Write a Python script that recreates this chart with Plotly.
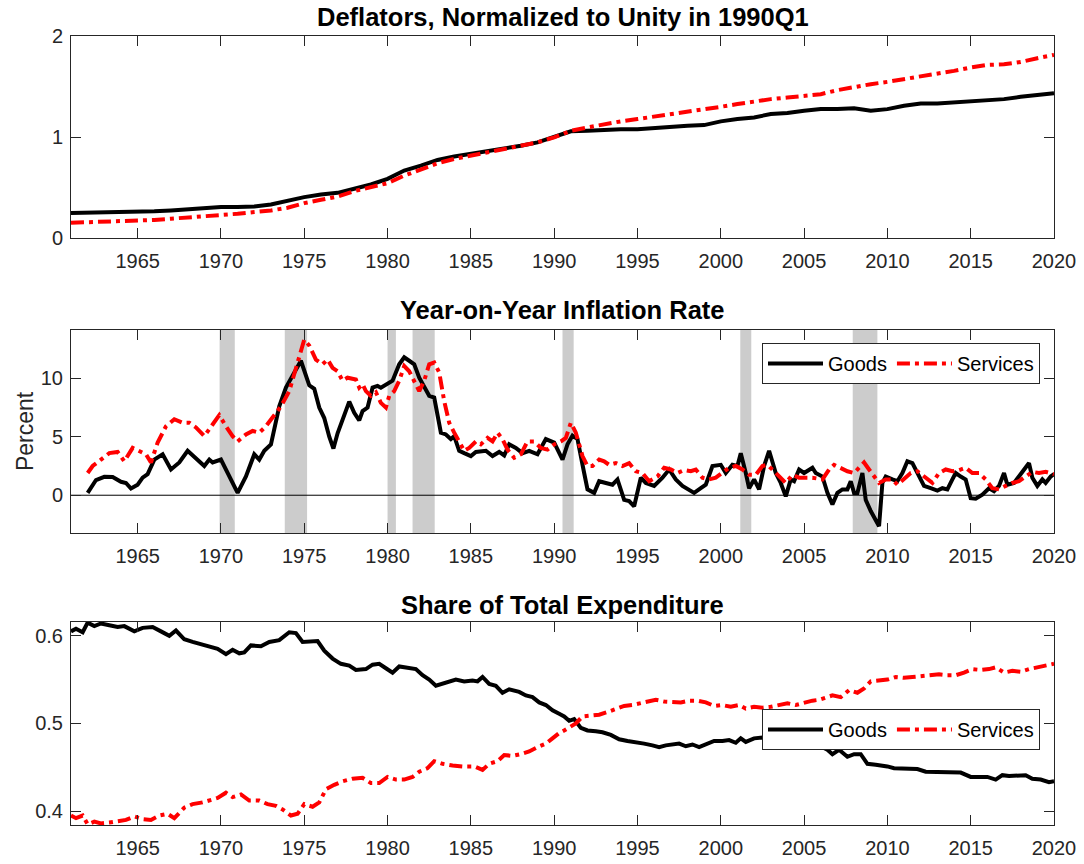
import plotly.graph_objects as go

# ---------------- Panel 1: deflators (annual readings) ----------------
defl_years = list(range(1961, 2021))
defl_goods = [0.247, 0.249, 0.251, 0.254, 0.257, 0.265, 0.273, 0.284, 0.296, 0.306,
              0.306, 0.312, 0.332, 0.372, 0.405, 0.431, 0.447, 0.487, 0.530, 0.586,
              0.668, 0.717, 0.773, 0.806, 0.832, 0.859, 0.888, 0.914, 0.947, 0.997,
              1.056, 1.062, 1.072, 1.077, 1.076, 1.089, 1.105, 1.112, 1.118, 1.155,
              1.178, 1.194, 1.227, 1.237, 1.260, 1.276, 1.276, 1.285, 1.260, 1.276,
              1.309, 1.332, 1.332, 1.342, 1.352, 1.359, 1.375, 1.398, 1.414, 1.434]
defl_serv = [0.151, 0.155, 0.159, 0.163, 0.168, 0.179, 0.191, 0.202, 0.214, 0.224,
             0.240, 0.257, 0.273, 0.299, 0.345, 0.378, 0.411, 0.464, 0.503, 0.543,
             0.618, 0.674, 0.740, 0.783, 0.816, 0.849, 0.882, 0.914, 0.947, 0.997,
             1.062, 1.095, 1.128, 1.155, 1.178, 1.201, 1.227, 1.250, 1.270, 1.299,
             1.326, 1.352, 1.375, 1.391, 1.408, 1.424, 1.464, 1.497, 1.523, 1.546,
             1.572, 1.595, 1.622, 1.655, 1.688, 1.714, 1.720, 1.743, 1.780, 1.813]

# ---------------- Panel 2: year-on-year inflation ----------------
infl_goods_t = [1962.0, 1962.5, 1963.0, 1963.5, 1964.0, 1964.3, 1964.6, 1965.0, 1965.3, 1965.6,
                1966.0, 1966.5, 1967.0, 1967.5, 1968.0, 1968.5, 1969.0, 1969.3, 1969.5, 1970.0,
                1970.5, 1971.0, 1971.5, 1972.0, 1972.3, 1972.6, 1973.0, 1973.5, 1973.9, 1974.3,
                1974.8, 1975.3, 1975.6, 1975.9, 1976.2, 1976.5, 1976.75, 1977.0, 1977.3, 1977.7,
                1978.0, 1978.3, 1978.5, 1978.8, 1979.1, 1979.4, 1979.6, 1980.0, 1980.3, 1980.7,
                1981.0, 1981.3, 1981.6, 1981.9, 1982.2, 1982.5, 1982.8, 1983.2, 1983.5, 1983.8,
                1984.0, 1984.3, 1984.6, 1985.0, 1985.3, 1985.9, 1986.3, 1986.7, 1987.0, 1987.3,
                1987.7, 1988.1, 1988.5, 1989.0, 1989.5, 1990.0, 1990.5, 1990.8, 1991.1, 1991.4,
                1991.8, 1992.0, 1992.4, 1992.7, 1993.1, 1993.5, 1993.8, 1994.2, 1994.5, 1994.8,
                1995.2, 1995.5, 1996.0, 1996.5, 1996.9, 1997.3, 1997.7, 1998.0, 1998.4, 1998.8,
                1999.1, 1999.5, 2000.0, 2000.3, 2000.7, 2001.0, 2001.2, 2001.5, 2001.7, 2002.0,
                2002.3, 2002.6, 2002.9, 2003.3, 2003.6, 2003.9, 2004.2, 2004.4, 2004.7, 2005.0,
                2005.3, 2005.5, 2005.7, 2006.1, 2006.4, 2006.7, 2007.0, 2007.3, 2007.6, 2007.8,
                2008.0, 2008.2, 2008.5, 2008.7, 2009.0, 2009.3, 2009.5, 2009.7, 2009.9, 2010.3,
                2010.6, 2010.9, 2011.2, 2011.5, 2011.8, 2012.2, 2012.6, 2013.0, 2013.3, 2013.6,
                2013.9, 2014.1, 2014.4, 2014.7, 2015.0, 2015.3, 2015.7, 2016.1, 2016.4, 2016.7,
                2017.0, 2017.2, 2017.6, 2018.0, 2018.3, 2018.5, 2018.7, 2019.0, 2019.3, 2019.5,
                2019.8, 2020.0]
infl_goods = [0.2, 1.3, 1.57, 1.55, 1.15, 1.05, 0.57, 0.9, 1.5, 1.8,
              3.05, 3.5, 2.2, 2.8, 3.8, 3.2, 2.5, 3.05, 2.8, 3.05,
              1.6, 0.2, 1.6, 3.5, 3.05, 3.8, 4.35, 7.6, 9.2, 10.3,
              11.5, 9.4, 9.1, 7.5, 6.6, 5.0, 4.0, 5.3, 6.5, 8.0,
              7.05, 6.4, 7.2, 7.5, 9.2, 9.35, 9.2, 9.5, 9.8, 11.2,
              11.8, 11.5, 11.2, 10.05, 9.35, 8.5, 8.35, 5.35, 5.2, 4.8,
              5.05, 3.8, 3.6, 3.35, 3.7, 3.8, 3.35, 3.7, 3.4, 4.35,
              4.05, 3.6, 3.8, 3.5, 4.8, 4.5, 3.05, 4.35, 5.1, 4.8,
              1.9, 0.5, 0.2, 1.2, 1.05, 0.9, 1.35, -0.4, -0.5, -0.95,
              1.5, 1.05, 0.8, 1.5, 2.2, 1.35, 0.8, 0.5, 0.2, 0.6,
              0.9, 2.5, 2.6, 1.9, 2.6, 2.5, 3.6, 1.9, 0.6, 1.35,
              0.5, 2.5, 3.8, 1.9, 1.05, -0.1, 1.35, 1.2, 2.2, 1.9,
              2.2, 2.35, 1.9, 1.6, 0.2, -0.8, 0.2, 0.5, 0.5, 1.2,
              0.2, 0.2, 1.9, -0.4, -1.35, -2.1, -2.65, 1.05, 1.6, 1.35,
              1.2, 1.9, 2.9, 2.75, 1.9, 0.8, 0.6, 0.4, 0.6, 0.5,
              1.35, 1.9, 1.6, 1.35, -0.25, -0.3, 0.05, 0.6, 0.35, 0.8,
              1.9, 0.9, 1.05, 1.8, 2.5, 2.75, 1.5, 0.8, 1.35, 1.05,
              1.6, 1.8]

infl_serv_t = [1962.0, 1962.3, 1962.8, 1963.3, 1963.8, 1964.2, 1964.7, 1965.1, 1965.5, 1965.8,
               1966.2, 1966.7, 1967.2, 1967.7, 1968.1, 1968.5, 1969.0, 1969.5, 1969.9, 1970.3,
               1970.7, 1971.0, 1971.5, 1971.9, 1972.3, 1972.7, 1973.2, 1973.6, 1974.1, 1974.5,
               1975.0, 1975.3, 1975.7, 1976.1, 1976.4, 1976.7, 1977.0, 1977.3, 1977.6, 1978.1,
               1978.3, 1978.5, 1978.7, 1979.0, 1979.3, 1979.6, 1979.9, 1980.1, 1980.4, 1980.7,
               1981.0, 1981.3, 1981.6, 1981.9, 1982.2, 1982.5, 1982.8, 1983.1, 1983.4, 1983.7,
               1984.0, 1984.3, 1984.6, 1984.9, 1985.3, 1985.6, 1986.0, 1986.3, 1986.6, 1986.9,
               1987.2, 1987.6, 1988.0, 1988.4, 1988.8, 1989.2, 1989.6, 1990.0, 1990.4, 1990.7,
               1991.0, 1991.3, 1991.7, 1992.0, 1992.3, 1992.7, 1993.0, 1993.3, 1993.7, 1994.1,
               1994.5, 1994.9, 1995.3, 1995.7, 1996.2, 1996.6, 1997.0, 1997.4, 1997.8, 1998.2,
               1998.5, 1998.9, 1999.3, 1999.7, 2000.1, 2000.5, 2000.9, 2001.3, 2001.7, 2002.1,
               2002.5, 2002.8, 2003.2, 2003.6, 2003.9, 2004.3, 2004.7, 2005.1, 2005.5, 2006.1,
               2006.5, 2006.8, 2007.2, 2007.6, 2008.0, 2008.3, 2008.6, 2008.9, 2009.2, 2009.5,
               2009.9, 2010.3, 2010.6, 2011.0, 2011.4, 2011.8, 2012.2, 2012.7, 2013.1, 2013.5,
               2013.9, 2014.3, 2014.7, 2015.1, 2015.5, 2015.9, 2016.3, 2016.7, 2017.1, 2017.5,
               2017.9, 2018.3, 2018.7, 2019.1, 2019.5, 2020.0]
infl_serv = [1.9, 2.5, 3.05, 3.6, 3.7, 2.9, 4.05, 3.75, 3.5, 2.8,
             4.5, 5.9, 6.5, 6.2, 6.2, 5.8, 5.05, 6.05, 6.85, 5.9,
             5.05, 4.6, 5.2, 5.5, 5.35, 5.9, 6.9, 7.6, 8.9, 10.8,
             13.3, 12.8, 11.6, 11.2, 11.6, 10.9, 10.6, 9.8, 10.05, 9.9,
             9.2, 9.5, 8.9, 8.5, 8.8, 7.9, 7.5, 8.5, 8.9, 9.8,
             11.05, 10.6, 9.8, 8.9, 9.8, 11.2, 11.35, 10.5, 8.05, 6.2,
             5.35, 4.6, 3.8, 4.05, 4.6, 4.35, 4.9, 4.6, 5.35, 4.8,
             3.9, 3.2, 3.5, 4.6, 4.6, 4.05, 3.9, 4.35, 4.6, 4.9,
             6.2, 5.35, 3.35, 2.5, 2.5, 3.05, 2.9, 2.6, 2.75, 2.5,
             2.75, 2.05, 1.9, 1.2, 1.6, 2.35, 2.2, 1.9, 2.15, 2.05,
             2.2, 1.5, 1.35, 1.5, 1.9, 2.35, 2.5, 2.2, 1.75, 1.75,
             2.5, 2.6, 2.05, 1.5, 1.05, 1.75, 1.5, 1.5, 1.5, 1.35,
             2.2, 2.6, 2.35, 2.05, 1.9, 2.35, 2.8, 2.2, 1.6, 1.05,
             1.35, 1.35, 0.9, 1.35, 1.9, 2.05, 1.6, 1.05, 1.9, 2.2,
             2.05, 2.15, 2.35, 1.9, 1.9, 1.35, 0.6, 0.5, 0.8, 1.05,
             1.2, 1.6, 2.0, 1.9, 2.0, 1.8]

# NBER recessions (shaded)
rec_start = [1969.92, 1973.83, 1980.0, 1981.5, 1990.5, 2001.17, 2007.92]
rec_end = [1970.83, 1975.17, 1980.5, 1982.83, 1991.17, 2001.83, 2009.4]

# ---------------- Panel 3: expenditure shares ----------------
share_goods_t = [1961.0, 1961.3, 1961.7, 1962.0, 1962.4, 1962.8, 1963.3, 1963.8, 1964.2, 1964.8,
                 1965.3, 1965.9, 1966.4, 1966.9, 1967.3, 1967.8, 1968.3, 1968.9, 1969.4, 1969.8,
                 1970.3, 1970.7, 1971.1, 1971.4, 1971.8, 1972.4, 1972.9, 1973.5, 1974.1, 1974.5,
                 1974.9, 1975.4, 1975.8, 1976.2, 1976.7, 1977.2, 1977.7, 1978.1, 1978.7, 1979.1,
                 1979.5, 1979.9, 1980.3, 1980.7, 1981.2, 1981.7, 1982.1, 1982.5, 1982.9, 1983.5,
                 1984.1, 1984.6, 1985.1, 1985.4, 1985.7, 1986.1, 1986.5, 1986.9, 1987.3, 1987.9,
                 1988.3, 1988.7, 1989.1, 1989.5, 1989.9, 1990.3, 1990.6, 1990.9, 1991.2, 1991.6,
                 1992.0, 1992.5, 1992.9, 1993.4, 1993.9, 1994.4, 1994.9, 1995.4, 1995.9, 1996.3,
                 1996.7, 1997.1, 1997.5, 1997.9, 1998.3, 1998.7, 1999.2, 1999.6, 2000.1, 2000.5,
                 2000.9, 2001.2, 2001.5, 2002.0, 2002.5, 2003.0, 2003.5, 2003.7, 2004.1, 2004.6,
                 2005.1, 2005.6, 2006.1, 2006.4, 2006.7, 2007.1, 2007.6, 2008.0, 2008.4, 2008.8,
                 2009.3, 2009.7, 2010.0, 2010.4, 2010.9, 2011.4, 2011.8, 2012.3, 2012.9, 2013.4,
                 2013.9, 2014.4, 2015.0, 2015.5, 2016.0, 2016.5, 2016.9, 2017.3, 2017.8, 2018.3,
                 2018.7, 2019.2, 2019.7, 2020.0]
share_goods = [0.605, 0.608, 0.604, 0.615, 0.611, 0.614, 0.612, 0.610, 0.611, 0.605,
               0.609, 0.610, 0.605, 0.600, 0.606, 0.596, 0.593, 0.590, 0.588, 0.585,
               0.579, 0.584, 0.580, 0.581, 0.589, 0.588, 0.593, 0.595, 0.604, 0.603,
               0.593, 0.594, 0.594, 0.583, 0.574, 0.568, 0.566, 0.561, 0.562, 0.567,
               0.568, 0.563, 0.558, 0.565, 0.564, 0.562, 0.555, 0.550, 0.543, 0.546,
               0.550, 0.548, 0.549, 0.548, 0.553, 0.545, 0.543, 0.535, 0.539, 0.536,
               0.532, 0.530, 0.524, 0.521, 0.515, 0.511, 0.508, 0.503, 0.505, 0.495,
               0.492, 0.491, 0.490, 0.487, 0.482, 0.480, 0.479, 0.477, 0.475, 0.473,
               0.475, 0.476, 0.477, 0.474, 0.476, 0.473, 0.477, 0.480, 0.480, 0.481,
               0.478, 0.483, 0.479, 0.483, 0.484, 0.482, 0.484, 0.477, 0.479, 0.479,
               0.476, 0.473, 0.473, 0.470, 0.465, 0.470, 0.462, 0.465, 0.465, 0.454,
               0.453, 0.452, 0.451, 0.449, 0.449, 0.448, 0.448, 0.445, 0.445, 0.445,
               0.445, 0.444, 0.439, 0.439, 0.439, 0.436, 0.441, 0.440, 0.441, 0.441,
               0.437, 0.436, 0.433, 0.434]

share_serv_t = [1961.0, 1961.3, 1961.7, 1962.0, 1962.4, 1962.8, 1963.3, 1963.8, 1964.3, 1964.8,
                1965.3, 1965.8, 1966.3, 1966.8, 1967.2, 1967.8, 1968.3, 1968.9, 1969.3, 1969.8,
                1970.3, 1970.7, 1971.2, 1971.7, 1972.3, 1972.8, 1973.3, 1973.7, 1974.2, 1974.6,
                1975.0, 1975.5, 1975.9, 1976.3, 1976.8, 1977.3, 1977.9, 1978.5, 1979.0, 1979.5,
                1980.0, 1980.5, 1981.0, 1981.5, 1981.9, 1982.4, 1982.8, 1983.3, 1983.9, 1984.5,
                1985.2, 1985.7, 1986.1, 1986.6, 1987.0, 1987.5, 1988.0, 1988.5, 1989.0, 1989.5,
                1989.9, 1990.3, 1990.6, 1990.9, 1991.3, 1991.7, 1992.2, 1992.7, 1993.2, 1993.7,
                1994.2, 1994.7, 1995.2, 1995.7, 1996.1, 1996.6, 1997.1, 1997.6, 1998.1, 1998.6,
                1999.1, 1999.6, 2000.1, 2000.6, 2001.1, 2001.5, 2002.0, 2002.5, 2003.0, 2003.5,
                2004.0, 2004.5, 2005.0, 2005.5, 2005.9, 2006.3, 2006.7, 2007.2, 2007.7, 2008.2,
                2008.6, 2009.0, 2009.5, 2010.0, 2010.5, 2011.0, 2011.5, 2012.0, 2012.5, 2013.1,
                2013.6, 2014.1, 2014.6, 2015.1, 2015.6, 2016.1, 2016.5, 2017.0, 2017.5, 2018.0,
                2018.5, 2019.0, 2019.5, 2020.0]
share_serv = [0.395, 0.392, 0.395, 0.385, 0.388, 0.386, 0.387, 0.389, 0.390, 0.394,
              0.391, 0.390, 0.395, 0.397, 0.392, 0.404, 0.408, 0.410, 0.412, 0.415,
              0.421, 0.416, 0.419, 0.412, 0.412, 0.408, 0.406, 0.402, 0.395, 0.397,
              0.408, 0.405, 0.410, 0.425, 0.430, 0.434, 0.437, 0.438, 0.432, 0.432,
              0.439, 0.436, 0.436, 0.439, 0.445, 0.449, 0.457, 0.454, 0.452, 0.451,
              0.451, 0.447, 0.454, 0.457, 0.464, 0.463, 0.465, 0.468, 0.473, 0.477,
              0.483, 0.489, 0.492, 0.496, 0.500, 0.508, 0.509, 0.510, 0.513, 0.517,
              0.520, 0.521, 0.523, 0.525, 0.527, 0.525, 0.525, 0.524, 0.526, 0.526,
              0.524, 0.520, 0.521, 0.519, 0.521, 0.517, 0.519, 0.518, 0.519, 0.521,
              0.523, 0.521, 0.524, 0.526, 0.527, 0.529, 0.532, 0.530, 0.538, 0.535,
              0.540, 0.548, 0.549, 0.550, 0.553, 0.552, 0.553, 0.554, 0.555, 0.556,
              0.555, 0.555, 0.558, 0.562, 0.561, 0.562, 0.564, 0.558, 0.560, 0.559,
              0.562, 0.564, 0.565, 0.568]

titles = ["Deflators, Normalized to Unity in 1990Q1",
          "Year-on-Year Inflation Rate",
          "Share of Total Expenditure"]
x_ticks = list(range(1965, 2021, 5))

# ---------------- figure ----------------
FONT = "Liberation Sans, Arial, Helvetica, sans-serif"
AX = "#262626"
W_LINE = 4
RED_DASH = "13px,5px,4px,5px"
TICK_SIZE = 20
TITLE_SIZE = 25.5

W, H = 1084, 864
left_px, right_px = 71, 1054
top_px, bottom_px = 36, 825
plot_h = bottom_px - top_px
plot_w = right_px - left_px


def frac(y):
    return (bottom_px - y) / plot_h


def fracx(x):
    return (x - left_px) / plot_w


fig = go.Figure()

# panel 1
fig.add_trace(go.Scatter(x=defl_years, y=defl_goods, mode="lines", xaxis="x", yaxis="y",
                         line=dict(color="black", width=W_LINE), showlegend=False))
fig.add_trace(go.Scatter(x=defl_years, y=defl_serv, mode="lines", xaxis="x", yaxis="y",
                         line=dict(color="#ff0000", width=W_LINE, dash=RED_DASH), showlegend=False))
# panel 2
fig.add_trace(go.Scatter(x=infl_goods_t, y=infl_goods, mode="lines", xaxis="x2", yaxis="y2",
                         name="Goods", legend="legend",
                         line=dict(color="black", width=W_LINE)))
fig.add_trace(go.Scatter(x=infl_serv_t, y=infl_serv, mode="lines", xaxis="x2", yaxis="y2",
                         name="Services", legend="legend",
                         line=dict(color="#ff0000", width=W_LINE, dash=RED_DASH)))
# panel 3
fig.add_trace(go.Scatter(x=share_goods_t, y=share_goods, mode="lines", xaxis="x3", yaxis="y3",
                         name="Goods", legend="legend2",
                         line=dict(color="black", width=W_LINE)))
fig.add_trace(go.Scatter(x=share_serv_t, y=share_serv, mode="lines", xaxis="x3", yaxis="y3",
                         name="Services", legend="legend2",
                         line=dict(color="#ff0000", width=W_LINE, dash=RED_DASH)))

shapes = []
for a, b in zip(rec_start, rec_end):
    shapes.append(dict(type="rect", xref="x2", yref="y2 domain", x0=a, x1=b, y0=0, y1=1,
                       fillcolor="#cccccc", line=dict(width=0), layer="below"))
shapes.append(dict(type="line", xref="x2 domain", yref="y2", x0=0, x1=1, y0=0, y1=0,
                   line=dict(color="black", width=1), layer="below"))

doms = [(frac(238), 1.0), (frac(533), frac(330)), (0.0, frac(622))]

common_x = dict(range=[1961, 2020], tickvals=x_ticks, ticks="inside", ticklen=10,
                tickcolor=AX, showline=True, linecolor=AX, linewidth=1, mirror="ticks",
                showgrid=False, zeroline=False, automargin=False,
                tickfont=dict(family=FONT, size=TICK_SIZE, color=AX),
                ticklabelstandoff=5)
common_y = dict(ticks="inside", ticklen=10, tickcolor=AX, showline=True, linecolor=AX,
                linewidth=1, mirror="ticks", showgrid=False, zeroline=False, automargin=False,
                tickfont=dict(family=FONT, size=TICK_SIZE, color=AX), ticklabelstandoff=3)

legend_common = dict(orientation="h", x=fracx(1040), xanchor="right", xref="paper",
                     yanchor="top", yref="paper", bgcolor="white", bordercolor=AX, borderwidth=1,
                     font=dict(family=FONT, size=TICK_SIZE, color="black"), itemwidth=55,
                     tracegroupgap=0)

layout = dict(
    width=W, height=H,
    margin=dict(l=left_px, r=W - right_px, t=top_px, b=H - bottom_px, autoexpand=False, pad=0),
    paper_bgcolor="white", plot_bgcolor="white",
    shapes=shapes,
    xaxis=dict(domain=[0, 1], anchor="y", **common_x),
    yaxis=dict(domain=list(doms[0]), anchor="x", range=[0, 2], tickvals=[0, 1, 2], **common_y),
    xaxis2=dict(domain=[0, 1], anchor="y2", **common_x),
    yaxis2=dict(domain=list(doms[1]), anchor="x2", range=[-3.23, 14.13], tickvals=[0, 5, 10],
                title=dict(text="Percent", font=dict(family=FONT, size=23, color=AX), standoff=0),
                **common_y),
    xaxis3=dict(domain=[0, 1], anchor="y3", **common_x),
    yaxis3=dict(domain=list(doms[2]), anchor="x3", range=[0.3842, 0.6157],
                tickvals=[0.4, 0.5, 0.6], tickformat=".1f", **common_y),
    legend=dict(y=frac(343), **legend_common),
    legend2=dict(y=frac(709), **legend_common),
    annotations=[
        dict(text=titles[i], x=0.5, xref="paper", y=frac(yy), yref="paper", showarrow=False,
             xanchor="center", yanchor="middle",
             font=dict(family=FONT, size=TITLE_SIZE, color="black", weight="bold"))
        for i, yy in enumerate([17, 310, 605])
    ],
)
fig.update_layout(**layout)
# remove the default page margin so the figure sits at the window's top-left corner
fig.write_html("out.html", config={"displayModeBar": False},
               post_script="document.body.style.margin='0px';")
